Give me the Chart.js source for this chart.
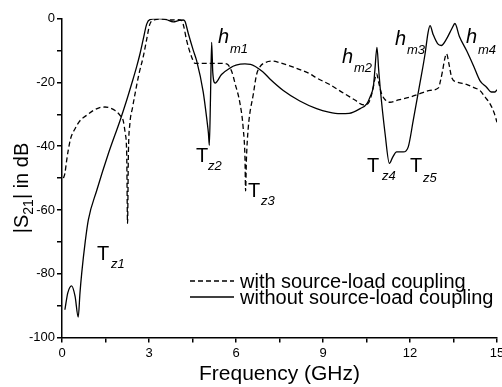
<!DOCTYPE html>
<html>
<head>
<meta charset="utf-8">
<script src="https://cdn.jsdelivr.net/npm/chart.js@4/dist/chart.umd.min.js"></script>
<style>
html,body{margin:0;padding:0;background:#fff;}
#wrap{width:502px;height:387px;position:relative;}
</style>
</head>
<body>
<div id="wrap"><canvas id="c" width="502" height="387"></canvas></div>
<script>
// ---- data ----
const freqWithout = [0.1,0.2,0.33,0.45,0.56,0.62,0.68,0.8,0.91,1.2,1.6,2.0,2.23,2.4,2.57,2.69,2.8,2.92,3.03,3.3,3.6,3.83,4.05,4.18,4.24,4.36,4.53,4.64,4.87,5.0,5.05,5.08,5.12,5.16,5.2,5.28,5.5,5.79,6.0,6.31,6.5,6.94,7.17,7.63,8.2,8.78,9.2,9.59,9.9,10.28,10.51,10.62,10.74,10.79,10.86,10.92,10.97,11.14,11.29,11.4,11.54,11.77,11.94,12.11,12.34,12.52,12.62,12.69,12.8,12.95,13.08,13.25,13.45,13.55,13.7,13.95,14.2,14.41,14.64,14.8,14.93,15.0];
const s21Without = [-91.3,-86,-83.8,-87,-93.6,-86,-79.8,-70,-63,-53.8,-42.3,-32,-25.6,-20.5,-15.2,-11,-6.5,-1.7,-0.3,0,-0.3,-1.0,-0.5,-0.4,-0.8,-4.8,-10,-13.1,-23,-32,-36,-39.7,-25,-7.4,-17,-20.2,-17.5,-15.5,-14.6,-14.2,-14.3,-16.8,-18.9,-22.5,-25.8,-28.2,-29.3,-29.8,-29.7,-28.2,-26.7,-24.6,-21,-16,-9.0,-16,-21.5,-36,-45.4,-43.5,-41.8,-41.8,-40.2,-32,-20.4,-11,-4.5,-2.2,-5,-7.8,-8.4,-6.5,-3,-1.5,-5.5,-10,-15,-19.4,-21.5,-23,-23,-22.3];

const freqWith = [0.05,0.1,0.16,0.22,0.3,0.45,0.62,0.85,1.08,1.3,1.48,1.65,1.83,2.0,2.11,2.18,2.23,2.26,2.29,2.34,2.43,2.52,2.65,2.8,2.92,3.03,3.21,3.5,3.8,4.0,4.13,4.2,4.3,4.47,4.59,4.8,5.2,5.5,5.68,5.85,5.97,6.14,6.25,6.31,6.33,6.36,6.42,6.6,6.71,6.83,7.0,7.25,7.5,7.98,8.55,8.78,9.2,9.7,10.1,10.39,10.56,10.7,10.8,10.85,10.92,11.02,11.15,11.31,11.6,12.0,12.34,12.69,12.98,13.05,13.12,13.2,13.26,13.35,13.44,13.6,13.95,14.2,14.41,14.59,14.76,14.9,15.0];
const s21With = [-50,-48.5,-44.5,-41,-37.5,-34.5,-32,-30.3,-28.8,-27.9,-27.7,-28,-28.8,-30.3,-32,-36,-42,-64.2,-42,-33,-28,-23.5,-17.5,-12,-6.5,-1.7,-0.3,-0.1,-0.4,-0.3,-0.6,-2.5,-6.9,-12,-14,-14,-14,-14,-14.2,-16.5,-20.4,-26.7,-34.5,-44,-54,-44,-34.5,-23.5,-17.5,-15,-13.8,-13.3,-13.8,-15.2,-17.3,-18.6,-20.5,-23.3,-25.5,-27,-26.5,-23,-18.5,-17.3,-20,-23.5,-25.5,-26.2,-25.5,-24.6,-23.5,-22.5,-21.7,-19.5,-16.5,-12.5,-11,-14.5,-18.5,-19.8,-20.6,-21.6,-22.5,-24.6,-26.7,-29.5,-32.5];

const xTickValues = [0,1.5,3,4.5,6,7.5,9,10.5,12,13.5,15];
const xTickLabels = ['0','','3','','6','','9','','12','','15'];
const yTickValues = [0,-10,-20,-30,-40,-50,-60,-70,-80,-90,-100];
const yTickLabels = ['0','','-20','','-40','','-60','','-80','','-100'];

const seriesNames = ['with source-load coupling','without source-load coupling'];

const FONT = "'Liberation Sans', Arial, sans-serif";

function pairs(xs, ys){ return xs.map((x,i)=>({x:x, y:ys[i]})); }

const labelPlugin = {
  id:'labels',
  afterDraw(chart){
    const ctx = chart.ctx;
    ctx.save();
    ctx.fillStyle = '#000';
    const items = [
      ['h','m1',true,218,43,230,53],
      ['h','m2',true,342,63,354,72],
      ['h','m3',true,395,45,407,54],
      ['h','m4',true,466,43,478,54],
      ['T','z1',false,97,260,111,268],
      ['T','z2',false,196,162,208,170],
      ['T','z3',false,248,197,261,205],
      ['T','z4',false,367,172,382,180],
      ['T','z5',false,410,172,423,182]
    ];
    ctx.textBaseline = 'alphabetic';
    ctx.textAlign = 'left';
    items.forEach(it=>{
      ctx.font = (it[2]?'italic ':'') + '20px ' + FONT;
      ctx.fillText(it[0], it[3], it[4]);
      ctx.font = 'italic 13px ' + FONT;
      ctx.fillText(it[1], it[5], it[6]);
    });
    // y axis title with subscript, rotated
    ctx.save();
    ctx.translate(28, 188);
    ctx.rotate(-Math.PI/2);
    const big = '20px ' + FONT, small = '14px ' + FONT;
    const parts = [['|S',big,0],['21',small,5],['| in dB',big,0]];
    let total = 0;
    parts.forEach(p=>{ ctx.font=p[1]; total += ctx.measureText(p[0]).width; });
    let x = -total/2;
    parts.forEach(p=>{ ctx.font=p[1]; ctx.fillText(p[0], x, p[2]); x += ctx.measureText(p[0]).width; });
    ctx.restore();
    // legend
    const lg = [[281,[5,3]],[297,[]]];
    ctx.lineWidth = 1.3;
    ctx.strokeStyle = '#000';
    lg.forEach((l,i)=>{
      ctx.setLineDash(l[1]);
      ctx.beginPath(); ctx.moveTo(190,l[0]); ctx.lineTo(234,l[0]); ctx.stroke();
      ctx.setLineDash([]);
      ctx.font = '20px ' + FONT;
      ctx.textBaseline = 'middle';
      ctx.fillText(seriesNames[i], 240, l[0]+1);
    });
    ctx.restore();
  }
};

new Chart(document.getElementById('c'), {
  type:'line',
  data:{
    datasets:[
      {label:seriesNames[0], data:pairs(freqWith,s21With), borderColor:'#000', borderWidth:1.3, borderDash:[5,3], pointRadius:0, fill:false, cubicInterpolationMode:'monotone'},
      {label:seriesNames[1], data:pairs(freqWithout,s21Without), borderColor:'#000', borderWidth:1.3, pointRadius:0, fill:false, cubicInterpolationMode:'monotone'}
    ]
  },
  options:{
    responsive:false, animation:false, devicePixelRatio:1,
    layout:{padding:{left:0,right:5,top:18.7,bottom:0}},
    plugins:{legend:{display:false}, tooltip:{enabled:false}},
    scales:{
      x:{
        type:'linear', min:0, max:15,
        afterBuildTicks(s){ s.ticks = xTickValues.map(v=>({value:v})); },
        afterFit(s){ s.height = 49.5; s.paddingLeft = 0; s.paddingRight = 0; },
        ticks:{autoSkip:false, maxRotation:0, padding:3, color:'#000', font:{family:FONT,size:13},
          callback(v){ const i = xTickValues.indexOf(v); return i>=0 ? xTickLabels[i] : ''; }},
        grid:{drawOnChartArea:false, drawTicks:true, tickLength:5, color:'#000', lineWidth:1.5},
        border:{display:true, color:'#000', width:1.5},
        title:{display:true, text:'Frequency (GHz)', color:'#000', font:{family:FONT,size:21}, padding:{top:0,bottom:0}}
      },
      y:{
        type:'linear', min:-100, max:0,
        afterBuildTicks(s){ s.ticks = yTickValues.map(v=>({value:v})); },
        afterFit(s){ s.width = 62; s.paddingTop = 0; s.paddingBottom = 0; },
        ticks:{autoSkip:false, padding:2, color:'#000', font:{family:FONT,size:13},
          callback(v){ const i = yTickValues.indexOf(v); return i>=0 ? yTickLabels[i] : ''; }},
        grid:{drawOnChartArea:false, drawTicks:true, tickLength:5, color:'#000', lineWidth:1.5},
        border:{display:true, color:'#000', width:1.5}
      }
    }
  },
  plugins:[labelPlugin]
});
</script>
</body>
</html>
